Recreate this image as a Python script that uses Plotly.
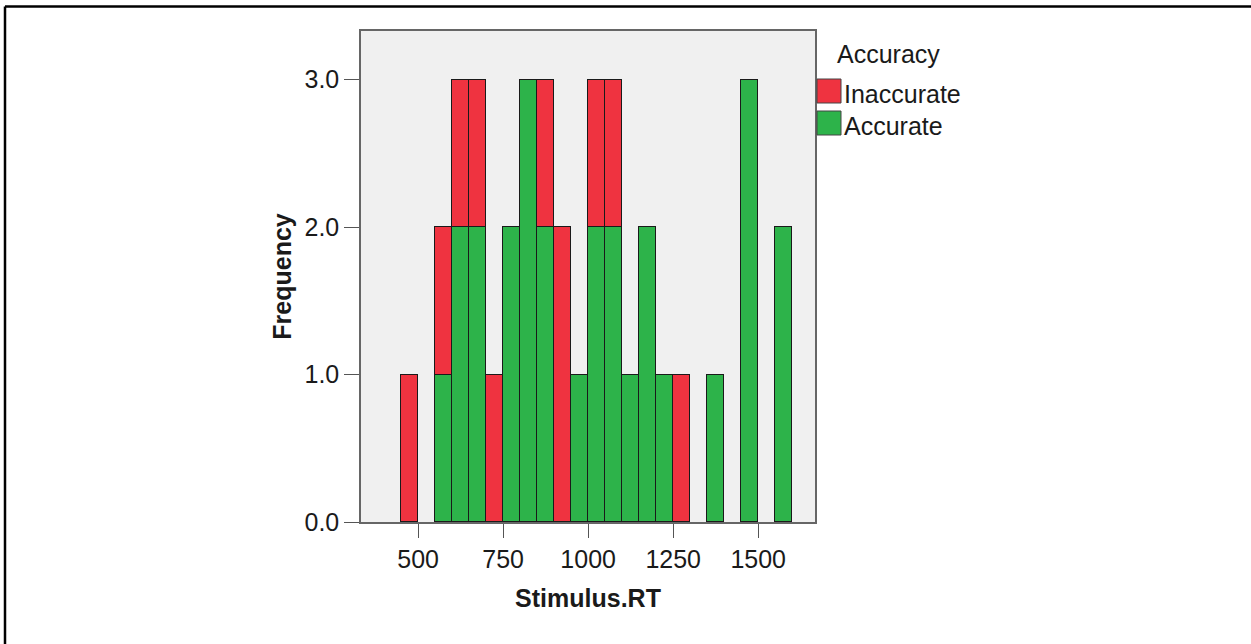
import plotly.graph_objects as go

# ---- data (histogram of Stimulus.RT, bin width 50) ----
bin_centers = [475, 525, 575, 625, 675, 725, 775, 825, 875, 925, 975, 1025,
               1075, 1125, 1175, 1225, 1275, 1325, 1375, 1425, 1475, 1525, 1575]
accurate   = [0, 0, 1, 2, 2, 0, 2, 3, 2, 0, 1, 2, 2, 1, 2, 1, 0, 0, 1, 0, 3, 0, 2]
inaccurate = [1, 0, 1, 1, 1, 1, 0, 0, 1, 2, 0, 1, 1, 0, 0, 0, 1, 0, 0, 0, 0, 0, 0]
bin_width = 50
x_ticks = [500, 750, 1000, 1250, 1500]
y_ticks = [0, 1, 2, 3]
series_names = ["Inaccurate", "Accurate"]
colors = {"Inaccurate": "#EF3340", "Accurate": "#2DB34A"}

W, H = 1251, 644
PL, PR, PT, PB = 361, 815, 31, 522  # plot area pixel box

def px_x(px):
    return (px - PL) / (PR - PL)

def px_y(py):
    return (PB - py) / (PB - PT)

FONT = "Liberation Sans, Arial, sans-serif"
FS = 25

fig = go.Figure()
for name, vals in (("Accurate", accurate), ("Inaccurate", inaccurate)):
    xs = [c for c, v in zip(bin_centers, vals) if v > 0]
    ys = [v for v in vals if v > 0]
    fig.add_trace(go.Bar(
        x=xs, y=ys, width=bin_width, name=name,
        marker=dict(color=colors[name], line=dict(color="#1a1a1a", width=1)),
        showlegend=False,
    ))

fig.update_layout(
    width=W, height=H,
    margin=dict(l=PL, r=W - PR, t=PT, b=H - PB),
    barmode="stack",
    bargap=0,
    plot_bgcolor="#F0F0F0",
    paper_bgcolor="white",
    font=dict(family=FONT, size=FS, color="#1a1a1a"),
)
fig.update_xaxes(
    range=[332, 1667], tickvals=x_ticks, ticks="outside", ticklen=14,
    tickcolor="#555", tickwidth=1, showgrid=False, zeroline=False,
    showline=True, linecolor="#666", linewidth=1.5, mirror=True,
    tickfont=dict(size=FS),
    title=dict(text="<b>Stimulus.RT</b>", font=dict(size=FS), standoff=18),
)
fig.update_yaxes(
    range=[0, 3.33], tickvals=y_ticks, tickformat=".1f", ticks="outside",
    ticklen=15, tickcolor="#555", tickwidth=1, showgrid=False, zeroline=False,
    showline=True, linecolor="#666", linewidth=1.5, mirror=True,
    tickfont=dict(size=FS),
    title=dict(text="<b>Frequency</b>", font=dict(size=FS), standoff=6),
)

shapes = []
# outer frame lines (top and left only)
shapes.append(dict(type="line", xref="paper", yref="paper",
                   x0=px_x(5), x1=px_x(W + 10), y0=px_y(6.5), y1=px_y(6.5),
                   line=dict(color="black", width=2.5)))
shapes.append(dict(type="line", xref="paper", yref="paper",
                   x0=px_x(5), x1=px_x(5), y0=px_y(6.5), y1=px_y(H + 10),
                   line=dict(color="black", width=2.5)))

# custom legend
annotations = [dict(text="Accuracy", xref="paper", yref="paper",
                    x=px_x(835), y=px_y(54), xanchor="left", yanchor="middle",
                    showarrow=False, font=dict(size=FS))]
legend_rows = {"Inaccurate": 91, "Accurate": 123}
for name in series_names:
    cy = legend_rows[name]
    shapes.append(dict(type="rect", xref="paper", yref="paper",
                       x0=px_x(817), x1=px_x(841), y0=px_y(cy + 12), y1=px_y(cy - 12),
                       fillcolor=colors[name], line=dict(color="#444", width=1)))
    annotations.append(dict(text=name, xref="paper", yref="paper",
                            x=px_x(842), y=px_y(cy + 3), xanchor="left", yanchor="middle",
                            showarrow=False, font=dict(size=FS)))

fig.update_layout(shapes=shapes, annotations=annotations)
fig.write_html("out.html", config={"displayModeBar": False},
               post_script="document.body.style.margin='0px';")
